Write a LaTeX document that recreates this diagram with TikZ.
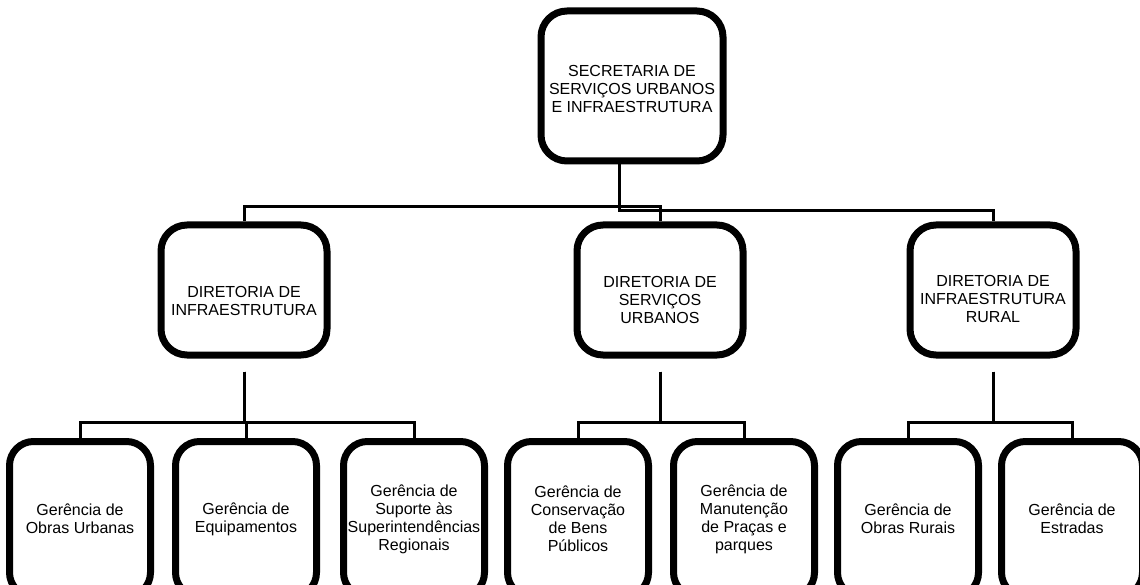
\documentclass[tikz,border=0pt]{standalone}
\usepackage{fontspec}
\setmainfont{Liberation Sans}
\usetikzlibrary{positioning}

\newcommand{\desce}[1]{\rule{0pt}{#1}}

\begin{document}
\begin{tikzpicture}[x=1pt,y=1pt,
    caixa/.style={draw, line width=7pt, rounded corners=26pt, align=center,
        inner sep=2pt, font=\fontsize{16}{18}\selectfont},
    topo/.style={caixa, minimum width=182pt, minimum height=150pt},
    diretoria/.style={caixa, minimum width=166pt, minimum height=130pt},
    gerencia/.style={caixa, minimum width=141pt, minimum height=155pt, rounded corners=24pt},
    liga/.style={line width=3pt}]

\useasboundingbox (0,0) rectangle (1140,-585);
\clip (0,0) rectangle (1140,-585);

% secretaria
\node[topo] (sec) at (632,-86) {\desce{17pt}SECRETARIA DE\\SERVIÇOS URBANOS\\E INFRAESTRUTURA};

% diretorias
\node[diretoria] (dinf)  at (244,-290) {\desce{33pt}DIRETORIA DE\\INFRAESTRUTURA};
\node[diretoria] (dserv) at (660,-290) {\desce{31pt}DIRETORIA DE\\SERVIÇOS\\URBANOS};
\node[diretoria] (drur)  at (993,-290) {\desce{29pt}DIRETORIA DE\\INFRAESTRUTURA\\RURAL};

% gerencias
\foreach \n/\x/\t in {g1/80/{Gerência de\\Obras Urbanas},
                      g2/246/{Gerência de\\Equipamentos},
                      g3/414/{Gerência de\\Suporte às\\Superintendências\\Regionais},
                      g4/578/{Gerência de\\Conservação\\de Bens\\Públicos},
                      g5/744/{Gerência de\\Manutenção\\de Praças e\\parques},
                      g6/908/{Gerência de\\Obras Rurais},
                      g7/1072/{Gerência de\\Estradas}}
    \node[gerencia] (\n) at (\x,-519) {\t};

\draw[liga] (dinf.north) -- ++(0,15) -| (dserv.north);
\draw[liga] ([xshift=-13pt]sec.south) -- ++(0,-46) -| (drur.north);

\foreach \d/\g in {dinf/g1,dinf/g2,dinf/g3,dserv/g4,dserv/g5,drur/g6,drur/g7}
    \draw[liga] ([yshift=-13pt]\d.south) -- ++(0,-51) -| (\g.north);

\end{tikzpicture}
\end{document}
